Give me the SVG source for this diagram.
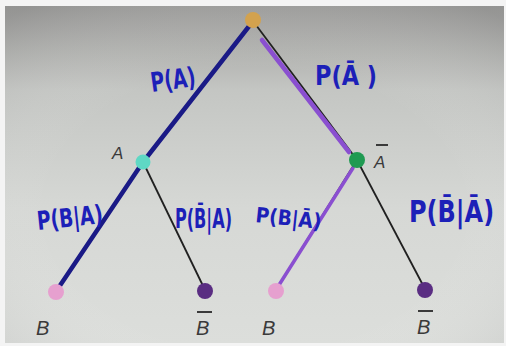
<svg xmlns="http://www.w3.org/2000/svg" width="506" height="346" viewBox="0 0 506 346">
  <defs>
    <linearGradient id="bg" x1="0" y1="0" x2="0" y2="1">
      <stop offset="0" stop-color="#9a9a98"/>
      <stop offset="0.25" stop-color="#c4c6c3"/>
      <stop offset="0.6" stop-color="#d6d8d5"/>
      <stop offset="1" stop-color="#dcdedb"/>
    </linearGradient>
    <radialGradient id="vig" cx="0.5" cy="0.6" r="0.75">
      <stop offset="0.55" stop-color="#ffffff" stop-opacity="0"/>
      <stop offset="1" stop-color="#808080" stop-opacity="0.25"/>
    </radialGradient>
    <style>
      .hand { font-family: "DejaVu Sans", "Liberation Sans", sans-serif; font-weight: bold; fill: #1c20b8; }
      .lbl { font-family: "Liberation Sans", Arial, sans-serif; font-style: italic; fill: #3a3a3a; }
      .bar { stroke: #3a3a3a; stroke-width: 2; }
      .thin { stroke: #202020; stroke-width: 1.8; fill: none; }
      .navy { stroke: #1a1a86; stroke-width: 4.5; stroke-linecap: round; fill: none; }
      .purple { stroke: #8a4fd0; stroke-width: 4.5; stroke-linecap: round; fill: none; }
    </style>
  </defs>
  <rect x="0" y="0" width="506" height="346" fill="#f4f4f4"/>
  <rect x="5" y="6" width="499" height="337" fill="url(#bg)"/>
  <rect x="5" y="6" width="499" height="337" fill="url(#vig)"/>

  <g id="connectors">
    <line class="navy" x1="250" y1="25" x2="143" y2="162"/>
    <line class="thin" x1="256" y1="25" x2="357" y2="160"/>
    <line class="purple" x1="262" y1="40" x2="349" y2="152"/>
    <line class="navy" x1="143" y1="162" x2="59" y2="287"/>
    <line class="thin" x1="143" y1="162" x2="205" y2="290"/>
    <line class="thin" x1="357" y1="160" x2="276" y2="290"/>
    <line class="purple" x1="353" y1="168" x2="279" y2="285" style="stroke-width:3.5"/>
    <line class="thin" x1="357" y1="160" x2="425" y2="289"/>
  </g>

  <g id="root"><circle cx="253" cy="20" r="8" fill="#d3a24e"/></g>
  <g id="nodeA">
    <circle cx="143" cy="162" r="7.5" fill="#5fd8c4"/>
    <text class="lbl" x="112" y="159" font-size="17">A</text>
  </g>
  <g id="nodeAbar">
    <circle cx="357" cy="160" r="8" fill="#1f9a52"/>
    <line class="bar" x1="376" y1="145" x2="388" y2="145"/>
    <text class="lbl" x="374" y="168" font-size="17">A</text>
  </g>
  <g id="leafB1">
    <circle cx="56" cy="292" r="8" fill="#e6a0cf"/>
    <text class="lbl" x="36" y="335" font-size="20">B</text>
  </g>
  <g id="leafBbar1">
    <circle cx="205" cy="291" r="8" fill="#5a2d82"/>
    <line class="bar" x1="197" y1="312" x2="212" y2="312"/>
    <text class="lbl" x="196" y="335" font-size="20">B</text>
  </g>
  <g id="leafB2">
    <circle cx="276" cy="291" r="8" fill="#e6a0cf"/>
    <text class="lbl" x="262" y="335" font-size="20">B</text>
  </g>
  <g id="leafBbar2">
    <circle cx="425" cy="290" r="8" fill="#5a2d82"/>
    <line class="bar" x1="418" y1="311" x2="433" y2="311"/>
    <text class="lbl" x="417" y="334" font-size="20">B</text>
  </g>

  <g id="labels">
    <text class="hand" x="152" y="92" font-size="27" textLength="45" lengthAdjust="spacingAndGlyphs" transform="rotate(-8 152 92)">P(A)</text>
    <text class="hand" x="315" y="85" font-size="27" textLength="62" lengthAdjust="spacingAndGlyphs">P(Ā )</text>
    <text class="hand" x="38" y="230" font-size="26" textLength="66" lengthAdjust="spacingAndGlyphs" transform="rotate(-6 38 230)">P(B|A)</text>
    <text class="hand" x="175" y="228" font-size="26" textLength="57" lengthAdjust="spacingAndGlyphs">P(B̄|A)</text>
    <text class="hand" x="255" y="222" font-size="21" textLength="66" lengthAdjust="spacingAndGlyphs" transform="rotate(6 255 222)">P(B|Ā)</text>
    <text class="hand" x="0" y="0" font-size="24" transform="translate(409 222) scale(1 1.25)">P(B̄|Ā)</text>
  </g>
</svg>
